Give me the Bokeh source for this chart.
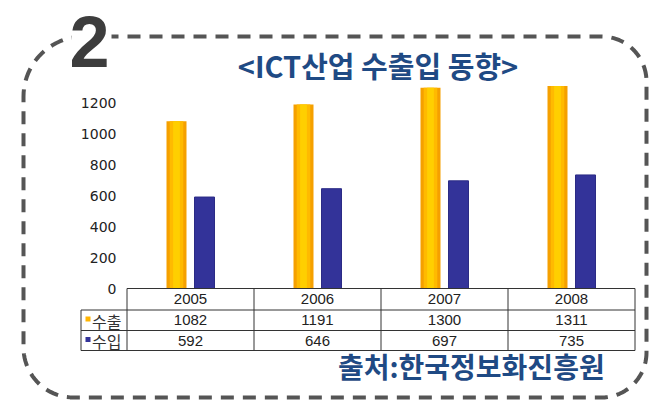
import numpy as np
from bokeh.plotting import figure
from bokeh.models import Range1d
from bokeh.core.properties import value
from bokeh.embed import file_html
from bokeh.resources import INLINE

# ---------------- data ----------------
years = ["2005", "2006", "2007", "2008"]
exports = [1082, 1191, 1300, 1311]
imports = [592, 646, 697, 735]
series_names = ["수출", "수입"]
y_ticks = [0, 200, 400, 600, 800, 1000, 1200]
title_text = "<ICT산업 수출입 동향>"
source_text = "출처:한국정보화진흥원"
badge_text = "2"

# ---------------- layout constants ----------------
W, H = 650, 402
BASE_PX = 288.0        # canvas y of value 0
PX_PER_UNIT = 0.1545   # pixels per value unit
CAT0_PX = 190.0        # canvas x of first category centre
CAT_STEP = 127.0       # pixels between categories
BAR_OFF = 14.0 / CAT_STEP
BAR_W = 20.0 / CAT_STEP
LEG_W = 46.0 / CAT_STEP

KFONT = value("Noto Sans CJK KR")
BLUE = "#1F4A84"

p = figure(width=W, height=H, output_backend="svg", toolbar_location=None,
           x_range=Range1d(0, W), y_range=Range1d(H, 0),
           x_axis_type=None, y_axis_type=None, min_border=0,
           outline_line_color=None)
p.grid.visible = False
p.background_fill_color = "white"
p.border_fill_color = "white"

p.extra_x_ranges = {"cat": Range1d(-CAT0_PX / CAT_STEP, (W - CAT0_PX) / CAT_STEP)}
p.extra_y_ranges = {"val": Range1d(-(H - BASE_PX) / PX_PER_UNIT, BASE_PX / PX_PER_UNIT)}

# ---------------- dashed rounded frame ----------------
L, T, R, B = 23.0, 36.0, 646.0, 397.0
r_tl, r_tr, r_br, r_bl = 60.0, 45.0, 45.0, 50.0
def arc(cx, cy, r, a0, a1, n=24):
    a = np.radians(np.linspace(a0, a1, n))
    return list(cx + r * np.cos(a)), list(cy + r * np.sin(a))
xs, ys = [L + r_tl], [T]
for cx, cy, r, a0, a1 in [(R - r_tr, T + r_tr, r_tr, -90, 0),
                          (R - r_br, B - r_br, r_br, 0, 90),
                          (L + r_bl, B - r_bl, r_bl, 90, 180),
                          (L + r_tl, T + r_tl, r_tl, 180, 270)]:
    ax, ay = arc(cx, cy, r, a0, a1)
    xs += ax
    ys += ay
p.line(xs, ys, line_color="#555555", line_width=4, line_dash="13 9")

# white patch behind the badge number, then the number
p.rect(x=[91], y=[36], width=40, height=12, fill_color="white", line_color=None)
p.text(x=[89], y=[41], text=[badge_text], text_align="center",
       text_baseline="middle", text_font=value("Liberation Sans"),
       text_font_style="bold", text_font_size="72px", text_color="#3d3d3d")

# ---------------- title ----------------
p.text(x=[377.5], y=[64], text=[title_text], text_align="center",
       text_baseline="middle", text_font=KFONT, text_font_style="bold",
       text_font_size="29px", text_color=BLUE)

# ---------------- bars ----------------
idx = np.arange(len(years))
for frac, col in [(1.0, "#F5A000"), (0.68, "#FFBA00"), (0.34, "#FFCF00")]:
    p.vbar(x=idx - BAR_OFF, top=exports, bottom=0, width=BAR_W * frac,
           fill_color=col, line_color=None,
           x_range_name="cat", y_range_name="val")
p.vbar(x=idx + BAR_OFF, top=imports, bottom=0, width=BAR_W,
       fill_color="#333399", line_color="#2b2b85", line_width=1,
       x_range_name="cat", y_range_name="val")

# ---------------- y tick labels ----------------
p.text(x=[116] * len(y_ticks), y=y_ticks, text=[str(t) for t in y_ticks],
       y_range_name="val", text_align="right", text_baseline="middle",
       text_font=value("DejaVu Sans"), text_font_size="14px", text_color="#222222")

# ---------------- data table ----------------
rows = [288.0, 309.5, 330.0, 350.0]
left_edge = -0.5
leg_left = left_edge - LEG_W
right_edge = len(years) - 0.5
hx0 = [left_edge, leg_left, leg_left, leg_left]
hx1 = [right_edge] * 4
p.segment(x0=hx0, y0=rows, x1=hx1, y1=rows, x_range_name="cat",
          line_color="#333333", line_width=1)
vx = list(np.arange(len(years) + 1) - 0.5)
p.segment(x0=vx, y0=[rows[0]] * len(vx), x1=vx, y1=[rows[-1]] * len(vx),
          x_range_name="cat", line_color="#333333", line_width=1)
p.segment(x0=[leg_left], y0=[rows[1]], x1=[leg_left], y1=[rows[-1]],
          x_range_name="cat", line_color="#333333", line_width=1)

mids = [(rows[i] + rows[i + 1]) / 2 for i in range(3)]
cell_font = value("Liberation Sans")
p.text(x=idx, y=[mids[0]] * len(years), text=years, x_range_name="cat",
       text_align="center", text_baseline="middle", text_font=cell_font,
       text_font_size="15px", text_color="#222222")
p.text(x=idx, y=[mids[1]] * len(years), text=[str(v) for v in exports],
       x_range_name="cat", text_align="center", text_baseline="middle",
       text_font=cell_font, text_font_size="15px", text_color="#222222")
p.text(x=idx, y=[mids[2]] * len(years), text=[str(v) for v in imports],
       x_range_name="cat", text_align="center", text_baseline="middle",
       text_font=cell_font, text_font_size="15px", text_color="#222222")

# legend swatches and labels
p.rect(x=[87.5, 87.5], y=[318.5, 339.0], width=5, height=5,
       fill_color=["#FFB400", "#333399"], line_color=None)
p.text(x=[91.5, 91.5], y=[mids[1] + 0.5, mids[2] + 0.5], text=series_names,
       text_align="left", text_baseline="middle", text_font=KFONT,
       text_font_size="16px", text_color="#333333")

# ---------------- source ----------------
p.text(x=[470.8], y=[365], text=[source_text], text_align="center",
       text_baseline="middle", text_font=KFONT, text_font_style="bold",
       text_font_size="28px", text_color=BLUE)

open("out.html", "w").write(file_html(p, INLINE))
